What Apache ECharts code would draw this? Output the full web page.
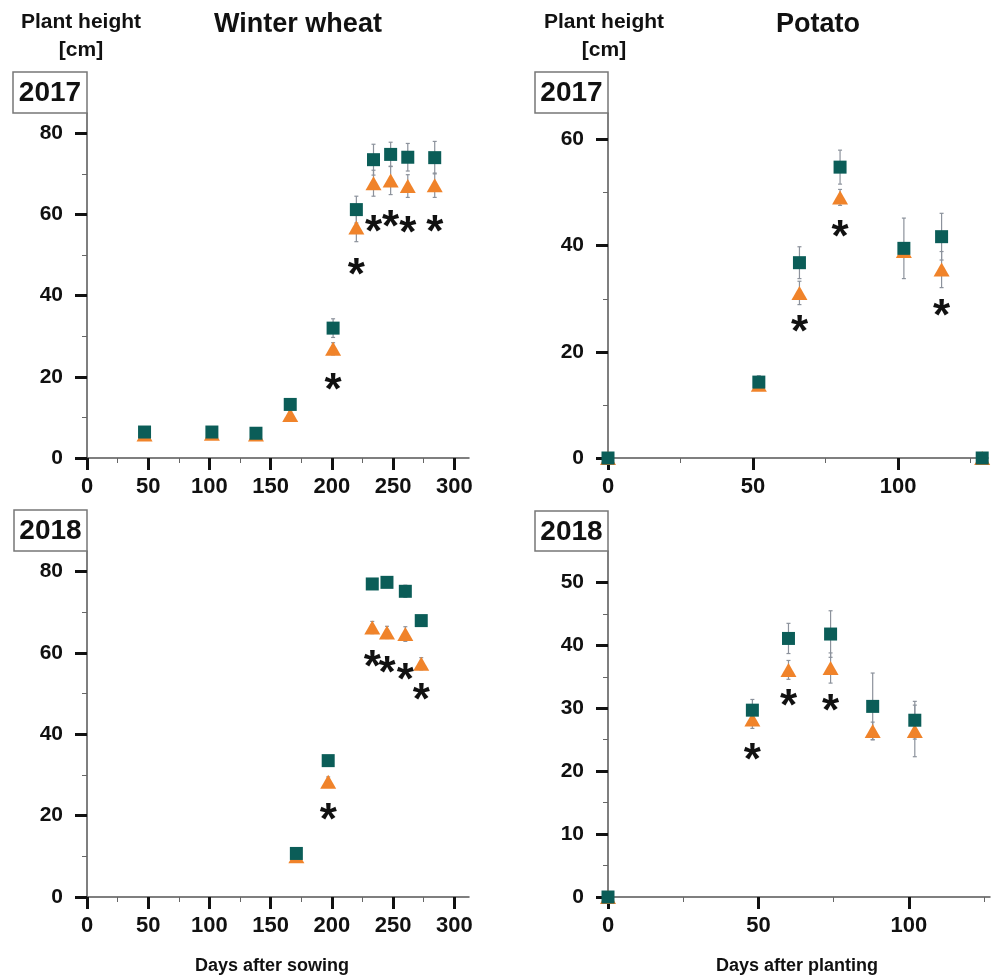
<!DOCTYPE html>
<html>
<head>
<meta charset="utf-8">
<title>Plant height</title>
<script src="https://cdn.jsdelivr.net/npm/echarts@6/dist/echarts.min.js"></script>
<style>
  html, body { margin: 0; padding: 0; background: #fff; }
  #chart { width: 993px; height: 979px; }
</style>
</head>
<body>
<div id="chart"></div>
<script>
// Winter wheat 2017 (days after sowing)
const wheat17Days = [47, 102, 138, 166, 201, 220, 234, 248, 262, 284];
const wheat17Sq = [6.4, 6.4, 6.1, 13.2, 32.0, 61.2, 73.5, 74.8, 74.1, 74.0];
const wheat17SqErr = [1.0, 1.0, 0.8, 1.2, 2.3, 3.3, 3.8, 3.0, 3.4, 4.0];
const wheat17Tri = [5.8, 6.0, 5.8, 10.6, 26.9, 56.8, 67.7, 68.4, 67.0, 67.2];
const wheat17TriErr = [0.5, 0.5, 0.5, 0.8, 1.5, 3.5, 3.2, 3.5, 2.8, 3.0];
const wheat17StarDays = [201, 220, 234, 248, 262, 284];
const wheat17StarY = [18.8, 47.1, 57.8, 58.8, 57.4, 57.8];

// Potato 2017 (days after planting)
const potato17Days = [0, 52, 66, 80, 102, 115, 129];
const potato17Sq = [0, 14.3, 36.8, 54.8, 39.5, 41.7, 0];
const potato17SqErr = [0, 1.2, 3.0, 3.2, 5.7, 4.4, 0];
const potato17Tri = [0, 13.8, 31.1, 49.1, 39.0, 35.5, 0];
const potato17TriErr = [0, 0.8, 2.2, 1.5, 1.0, 3.4, 0];
const potato17StarDays = [66, 80, 115];
const potato17StarY = [25.2, 43.2, 28.3];

// Winter wheat 2018
const wheat18Days = [171, 197, 233, 245, 260, 273];
const wheat18Sq = [10.7, 33.5, 76.9, 77.3, 75.1, 67.9];
const wheat18SqErr = [1.0, 0.8, 1.0, 1.2, 1.5, 0.8];
const wheat18Tri = [10.0, 28.3, 66.2, 65.0, 64.6, 57.3];
const wheat18TriErr = [0.5, 1.2, 1.5, 1.5, 1.8, 1.5];
const wheat18StarDays = [197, 233, 245, 260, 273];
const wheat18StarY = [20.9, 58.4, 57.0, 55.2, 50.5];

// Potato 2018
const potato18Days = [0, 48, 60, 74, 88, 102];
const potato18Sq = [0, 29.7, 41.1, 41.8, 30.3, 28.1];
const potato18SqErr = [0, 1.7, 2.4, 3.7, 5.3, 3.0];
const potato18Tri = [0, 28.2, 36.1, 36.4, 26.4, 26.4];
const potato18TriErr = [0, 1.4, 1.5, 2.4, 1.4, 4.1];
const potato18StarDays = [48, 60, 74];
const potato18StarY = [23.1, 31.6, 30.8];

// tick labels
const wheatXTicks = [0, 50, 100, 150, 200, 250, 300];
const potatoXTicks = [0, 50, 100];
const wheatYTicks = [0, 20, 40, 60, 80];
const potato17YTicks = [0, 20, 40, 60];
const potato18YTicks = [0, 10, 20, 30, 40, 50];

const FONT = 'Liberation Sans, Arial, sans-serif';
const SQ_COLOR = '#0b5d58';
const TRI_COLOR = '#f0832a';
const ERR_COLOR = '#8c929c';

const chart = echarts.init(document.getElementById('chart'));

function xAxisFor(gridIndex, max, ticks) {
  return {
    type: 'value', gridIndex: gridIndex, min: 0, max: max, interval: 50,
    axisLine: { onZero: false, lineStyle: { color: '#555', width: 1.5 } },
    axisTick: { length: 12, customValues: ticks, lineStyle: { color: '#111', width: 3 } },
    minorTick: { show: true, splitNumber: 2, length: 5, lineStyle: { color: '#666', width: 1 } },
    splitLine: { show: false },
    axisLabel: { customValues: ticks, margin: 18, fontSize: 22, fontWeight: 'bold', fontFamily: FONT, color: '#111' }
  };
}

function yAxisFor(gridIndex, max, interval, ticks) {
  return {
    type: 'value', gridIndex: gridIndex, min: 0, max: max, interval: interval,
    axisLine: { onZero: false, lineStyle: { color: '#555', width: 1.5 } },
    axisTick: { length: 12, customValues: ticks, lineStyle: { color: '#111', width: 3 } },
    minorTick: { show: true, splitNumber: 2, length: 5, lineStyle: { color: '#666', width: 1 } },
    splitLine: { show: false },
    axisLabel: { customValues: ticks, margin: 24, fontSize: 21, fontWeight: 'bold', fontFamily: FONT, color: '#111' }
  };
}

function errRows(days, vals, errs) {
  return days.map((d, i) => [d, vals[i] - errs[i], vals[i] + errs[i]]);
}

function pairs(days, vals) {
  return days.map((d, i) => [d, vals[i]]);
}

// one panel = error bars + triangles + squares + asterisks
function panelSeries(idx, days, sq, sqErr, tri, triErr, starDays, starY) {
  const errSeries = {
    type: 'custom', xAxisIndex: idx, yAxisIndex: idx, z: 1, clip: false,
    data: errRows(days, sq, sqErr).concat(errRows(days, tri, triErr)),
    renderItem: function (params, api) {
      const lo = api.coord([api.value(0), api.value(1)]);
      const hi = api.coord([api.value(0), api.value(2)]);
      const st = { stroke: ERR_COLOR, lineWidth: 1.2 };
      return {
        type: 'group',
        children: [
          { type: 'line', shape: { x1: lo[0], y1: lo[1], x2: hi[0], y2: hi[1] }, style: st },
          { type: 'line', shape: { x1: lo[0] - 2, y1: lo[1], x2: lo[0] + 2, y2: lo[1] }, style: st },
          { type: 'line', shape: { x1: hi[0] - 2, y1: hi[1], x2: hi[0] + 2, y2: hi[1] }, style: st }
        ]
      };
    }
  };
  const triSeries = {
    type: 'scatter', xAxisIndex: idx, yAxisIndex: idx, z: 2,
    symbol: 'triangle', symbolSize: [16, 14],
    itemStyle: { color: TRI_COLOR, opacity: 1 },
    data: pairs(days, tri)
  };
  const sqSeries = {
    type: 'scatter', xAxisIndex: idx, yAxisIndex: idx, z: 3,
    symbol: 'rect', symbolSize: 13,
    itemStyle: { color: SQ_COLOR, opacity: 1 },
    data: pairs(days, sq)
  };
  const starSeries = {
    type: 'custom', xAxisIndex: idx, yAxisIndex: idx, z: 4, clip: false,
    data: pairs(starDays, starY),
    renderItem: function (params, api) {
      const p = api.coord([api.value(0), api.value(1)]);
      return {
        type: 'text', x: p[0], y: p[1] + 10,
        style: { text: '*', fontSize: 44, fontWeight: 'bold', fontFamily: FONT, fill: '#111', align: 'center', verticalAlign: 'middle' }
      };
    }
  };
  return [errSeries, triSeries, sqSeries, starSeries];
}

function label(text, x, y, size) {
  return {
    type: 'text', x: x, y: y,
    style: { text: text, fontSize: size, fontWeight: 'bold', fontFamily: FONT, fill: '#111', align: 'center', verticalAlign: 'middle' }
  };
}

function yearBox(text, x, y, w, h) {
  return {
    type: 'group',
    children: [
      { type: 'rect', shape: { x: x, y: y, width: w, height: h }, style: { fill: '#fff', stroke: '#777', lineWidth: 1.5 }, z: 10 },
      { type: 'text', x: x + w / 2, y: y + h / 2 + 1, z: 11,
        style: { text: text, fontSize: 28, fontWeight: 'bold', fontFamily: FONT, fill: '#111', align: 'center', verticalAlign: 'middle' } }
    ]
  };
}

const option = {
  backgroundColor: '#fff',
  animation: false,
  grid: [
    { left: 87, top: 113, width: 382, height: 345, outerBoundsMode: 'none' },
    { left: 608, top: 113, width: 380, height: 345, outerBoundsMode: 'none' },
    { left: 87, top: 551, width: 382, height: 346, outerBoundsMode: 'none' },
    { left: 608, top: 551, width: 382, height: 346, outerBoundsMode: 'none' }
  ],
  xAxis: [
    xAxisFor(0, 312, wheatXTicks),
    xAxisFor(1, 131, potatoXTicks),
    xAxisFor(2, 312, wheatXTicks),
    xAxisFor(3, 127, potatoXTicks)
  ],
  yAxis: [
    yAxisFor(0, 85, 20, wheatYTicks),
    yAxisFor(1, 65, 20, potato17YTicks),
    yAxisFor(2, 85, 20, wheatYTicks),
    yAxisFor(3, 55, 10, potato18YTicks)
  ],
  series: [].concat(
    panelSeries(0, wheat17Days, wheat17Sq, wheat17SqErr, wheat17Tri, wheat17TriErr, wheat17StarDays, wheat17StarY),
    panelSeries(1, potato17Days, potato17Sq, potato17SqErr, potato17Tri, potato17TriErr, potato17StarDays, potato17StarY),
    panelSeries(2, wheat18Days, wheat18Sq, wheat18SqErr, wheat18Tri, wheat18TriErr, wheat18StarDays, wheat18StarY),
    panelSeries(3, potato18Days, potato18Sq, potato18SqErr, potato18Tri, potato18TriErr, potato18StarDays, potato18StarY)
  ),
  graphic: [
    label('Plant height', 81, 22, 21),
    label('[cm]', 81, 50, 21),
    label('Winter wheat', 298, 25, 27),
    label('Plant height', 604, 22, 21),
    label('[cm]', 604, 50, 21),
    label('Potato', 818, 25, 27),
    yearBox('2017', 13, 72, 74, 41),
    yearBox('2017', 535, 72, 73, 41),
    yearBox('2018', 14, 510, 73, 41),
    yearBox('2018', 535, 511, 73, 40),
    label('Days after sowing', 272, 966, 18),
    label('Days after planting', 797, 966, 18)
  ]
};

chart.setOption(option);
</script>
</body>
</html>
